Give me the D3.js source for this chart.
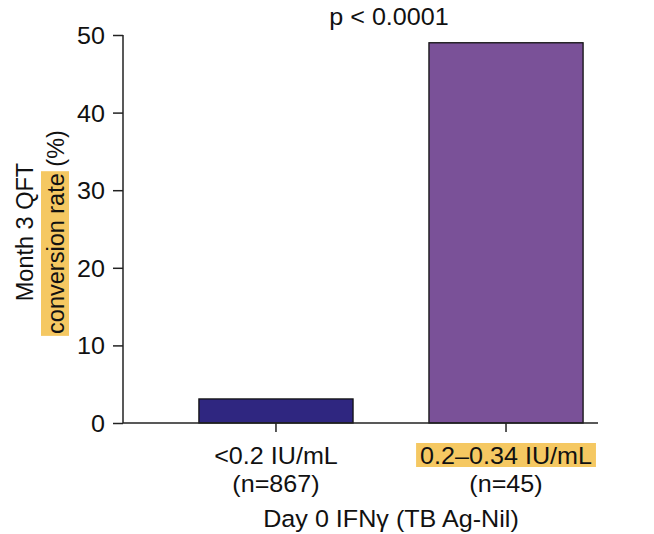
<!DOCTYPE html>
<html>
<head>
<meta charset="utf-8">
<script src="https://cdn.jsdelivr.net/npm/d3@7"></script>
<style>
  html, body { margin: 0; padding: 0; background: #fff; }
  svg { display: block; font-family: "Liberation Sans", Arial, Helvetica, sans-serif; }
</style>
</head>
<body>
<svg id="chart" width="654" height="534"></svg>
<script>
// Conversion rate by baseline IFN-gamma group
const categories = ["<0.2 IU/mL", "0.2–0.34 IU/mL"];
const sampleSizes = ["(n=867)", "(n=45)"];
const conversionRate = [3.1, 49.0];
const barColors = ["#2f2680", "#7a5198"];
const yTicks = [0, 10, 20, 30, 40, 50];
const highlighted = [false, true];

const svg = d3.select("#chart");
const margin = { left: 123, top: 35, bottom: 111 };
const H = 534;
const axisLen = 475;
const plotH = H - margin.top - margin.bottom;
const highlight = "#f5c862";
const fontSize = 23.5;
const wide = 1.07;          // horizontal widening of the set type
const ink = "#111";

const g = svg.append("g").attr("transform", `translate(${margin.left},${margin.top})`);

const x = d3.scaleBand().domain(categories).range([0, 536]).paddingInner(0.33).paddingOuter(0.33);
const y = d3.scaleLinear().domain([0, 50]).range([plotH, 0]);

// horizontal label helper: centred (or end-anchored) text, slightly widened
function label(parent, px, py, str, anchor = "middle") {
  return parent.append("text")
    .attr("transform", `translate(${px},${py}) scale(${wide},1)`)
    .attr("text-anchor", anchor).attr("font-size", fontSize).attr("fill", ink).text(str);
}

// bars
g.selectAll("rect.bar").data(categories).join("rect")
  .attr("class", "bar")
  .attr("x", d => x(d))
  .attr("width", x.bandwidth())
  .attr("y", (d, i) => y(conversionRate[i]))
  .attr("height", (d, i) => y(0) - y(conversionRate[i]))
  .attr("fill", (d, i) => barColors[i])
  .attr("stroke", "#111")
  .attr("stroke-width", 1.3);

// y axis
const yAxis = g.append("g").call(d3.axisLeft(y).tickValues(yTicks).tickSize(10).tickFormat(""));
yAxis.select(".domain").attr("stroke", "#222").attr("stroke-width", 1.5).attr("d", `M0,0V${plotH}`);
yAxis.selectAll(".tick line").attr("stroke", "#222").attr("stroke-width", 1.5);
yAxis.selectAll(".tick").each(function (d) {
  label(d3.select(this), -18, 0, d3.format("d")(d), "end").attr("dy", "0.36em");
});

// x axis
const xAxis = g.append("g").attr("transform", `translate(0,${plotH})`)
  .call(d3.axisBottom(x).tickSize(9).tickFormat(""));
xAxis.select(".domain").attr("stroke", "#222").attr("stroke-width", 1.5).attr("d", `M0,0H${axisLen}`);
xAxis.selectAll(".tick line").attr("stroke", "#222").attr("stroke-width", 1.5);

// category labels
const labels = g.append("g").attr("transform", `translate(0,${plotH})`);
categories.forEach((c, i) => {
  const cx = x(c) + x.bandwidth() / 2;
  const t = label(labels, cx, 41, c);
  if (highlighted[i]) {
    const w = t.node().getBBox().width * wide;
    labels.insert("rect", "text").attr("x", cx - w / 2 - 4).attr("y", 20).attr("width", w + 8)
      .attr("height", 24).attr("fill", highlight);
  }
  label(labels, cx, 69, sampleSizes[i]);
});

// x title
label(svg, 391, 527, "Day 0 IFNγ (TB Ag-Nil)");

// significance label
label(svg, 389, 25, "p < 0.0001");

// y title (two lines, rotated)
const yt = svg.append("g").attr("transform", "translate(0,232) rotate(-90)");
yt.append("text").attr("x", 0).attr("y", 33).attr("text-anchor", "middle")
  .attr("font-size", fontSize).attr("fill", ink).text("Month 3 QFT");
const line2 = yt.append("text").attr("x", 0).attr("y", 64).attr("text-anchor", "middle")
  .attr("font-size", fontSize).attr("fill", ink);
const hl = line2.append("tspan").text("conversion rate");
line2.append("tspan").text(" (%)");
const bb2 = hl.node().getBBox();
yt.insert("rect", "text").attr("x", bb2.x - 2).attr("y", 41).attr("width", bb2.width + 4)
  .attr("height", 28).attr("fill", highlight);
</script>
</body>
</html>
